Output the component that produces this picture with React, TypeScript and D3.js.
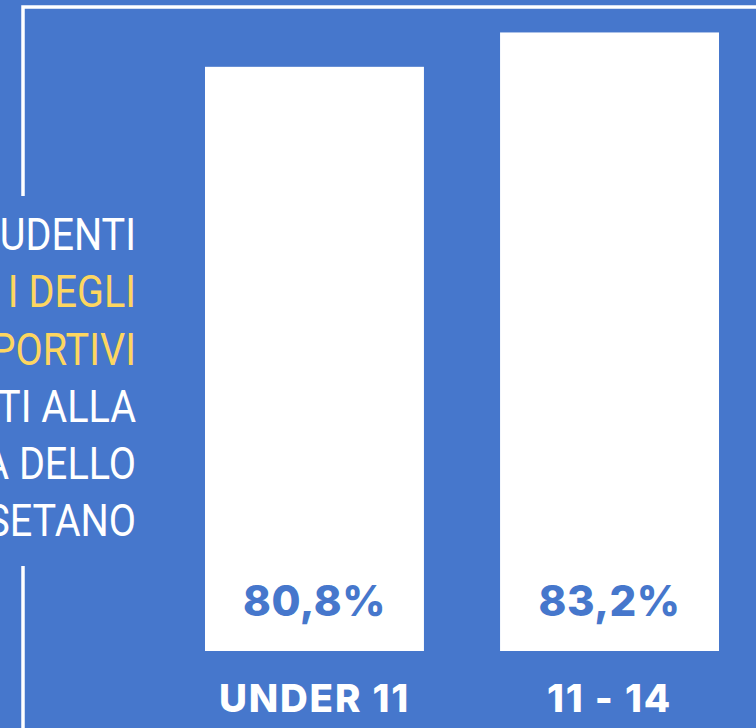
import React, { useEffect, useRef } from 'react';
import * as d3 from 'd3';

// data
const categories = ['UNDER 11', '11 - 14'];
const values = [80.8, 83.2];
const valueLabels = ['80,8%', '83,2%'];

// left caption (cut off at the left edge in the original)
const captionLines = ['UDENTI', 'I DEGLI', 'PORTIVI', 'TI ALLA', 'A DELLO', 'SETANO'];
const captionHighlight = [false, true, true, false, false, false];

const W = 756;
const H = 728;
const BG = '#4677cc';
const YELLOW = '#fdd660';

const App: React.FC = () => {
  const svgRef = useRef<SVGSVGElement>(null);

  useEffect(() => {
    if (!svgRef.current) return;
    document.body.style.margin = '0';
    const svg = d3.select(svgRef.current);
    svg.selectAll('*').remove();

    svg.append('rect').attr('width', W).attr('height', H).attr('fill', BG);

    // frame lines
    const frame = svg.append('g').attr('stroke', '#ffffff').attr('stroke-width', 3.5).attr('fill', 'none');
    frame.append('path').attr('d', `M23,196 V7 H${W}`);
    frame.append('path').attr('d', `M23,566 V${H}`);

    // scales
    const x = d3.scaleBand<string>()
      .domain(categories)
      .range([205, 719])
      .paddingInner(0.258)
      .paddingOuter(0);

    const baseline = 651;
    const y = d3.scaleLinear().domain([40, 84]).range([baseline, 21]);

    // bars
    svg.append('g')
      .selectAll('rect')
      .data(values)
      .join('rect')
      .attr('x', (_, i) => x(categories[i])!)
      .attr('y', d => y(d))
      .attr('width', x.bandwidth())
      .attr('height', d => baseline - y(d))
      .attr('fill', '#ffffff');

    // value labels inside the bars
    svg.append('g')
      .selectAll('text')
      .data(valueLabels)
      .join('text')
      .attr('x', (_, i) => x(categories[i])! + x.bandwidth() / 2)
      .attr('y', 616)
      .attr('text-anchor', 'middle')
      .attr('font-family', 'Inter, "Open Sans", sans-serif')
      .attr('font-weight', 800)
      .attr('font-size', 42)
      .attr('letter-spacing', 0.5)
      .attr('fill', BG)
      .text(d => d);

    // category labels
    svg.append('g')
      .selectAll('text')
      .data(categories)
      .join('text')
      .attr('x', d => x(d)! + x.bandwidth() / 2)
      .attr('y', 712)
      .attr('text-anchor', 'middle')
      .attr('font-family', 'Inter, "Open Sans", sans-serif')
      .attr('font-weight', 800)
      .attr('font-size', 38.5)
      .attr('letter-spacing', 1.8)
      .attr('fill', '#ffffff')
      .text(d => d);

    // caption, horizontally condensed
    svg.append('g')
      .attr('transform', 'translate(136,0) scale(0.88,1)')
      .selectAll('text')
      .data(captionLines)
      .join('text')
      .attr('x', 0)
      .attr('y', (_, i) => 250 + i * 57.3)
      .attr('text-anchor', 'end')
      .attr('font-family', 'Roboto, sans-serif')
      .attr('font-size', 45)
      .attr('fill', (_, i) => (captionHighlight[i] ? YELLOW : '#ffffff'))
      .text(d => d);
  }, []);

  return (
    <div style={{ position: 'absolute', left: 0, top: 0, width: W, height: H }}>
      <svg ref={svgRef} width={W} height={H} style={{ display: 'block' }} />
    </div>
  );
};

export default App;
